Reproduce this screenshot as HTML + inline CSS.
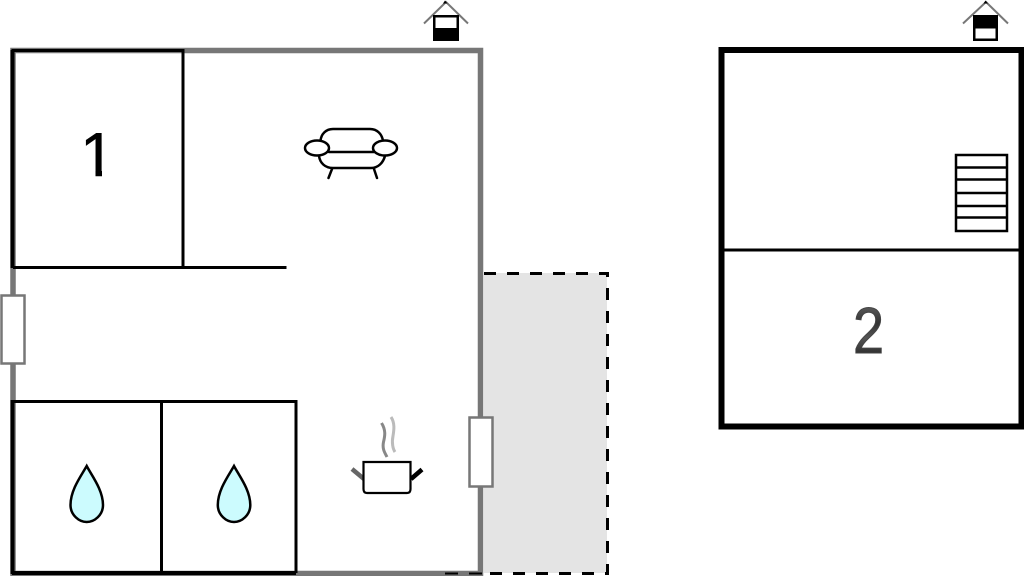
<!DOCTYPE html>
<html><head><meta charset="utf-8"><style>
html,body{margin:0;padding:0;background:#fff}
svg{display:block}
text{font-family:"Liberation Sans",sans-serif}
</style></head><body>
<svg width="1024" height="576" viewBox="0 0 1024 576" xmlns="http://www.w3.org/2000/svg" fill="none" stroke-linejoin="miter">
<defs>
<clipPath id="one"><rect x="80" y="125" width="30" height="46"/><rect x="95.500" y="170" width="6.500" height="7"/></clipPath>
<linearGradient id="two" x1="0" y1="0" x2="0" y2="1">
<stop offset="0" stop-color="#222"/><stop offset="0.2" stop-color="#555"/><stop offset="0.4" stop-color="#333"/><stop offset="0.6" stop-color="#555"/><stop offset="0.8" stop-color="#333"/><stop offset="1" stop-color="#666"/>
</linearGradient>
</defs>
<rect width="1024" height="576" fill="#fff"/>
<!-- terrace -->
<rect x="484" y="273" width="123" height="300" fill="#e4e4e4"/>
<path d="M484 273.500H607.500V573.500H445" stroke="#000" stroke-width="3" stroke-dasharray="12 11"/>
<!-- outer walls -->
<path d="M13 50.500H480.500V573.500H13Z" stroke="#777" stroke-width="5.500"/>
<path d="M445 573.500H483" stroke="#000" stroke-width="2" stroke-dasharray="13 11"/>
<!-- room 1 -->
<path d="M13 268V50.500H183V268" stroke="#000" stroke-width="3"/>
<path d="M12.500 268V50" stroke="#000" stroke-width="4"/>
<path d="M13 267.500H286.500" stroke="#000" stroke-width="3"/>
<!-- wet rooms -->
<path d="M13 401.500H296V573" stroke="#000" stroke-width="3"/>
<path d="M161.500 401V573" stroke="#000" stroke-width="3"/>
<path d="M12.500 400V574M12 573H296" stroke="#000" stroke-width="4"/>
<!-- doors -->
<rect x="1.500" y="295.500" width="23" height="68" fill="#fff" stroke="#777" stroke-width="2.500"/>
<rect x="469.500" y="417.500" width="23" height="69" fill="#fff" stroke="#777" stroke-width="2.500"/>
<!-- drops -->
<path d="M86.700 466C81 476 70.500 490 70.500 505C70.500 515 79 522 86.700 522C94.500 522 103 515 103 505C103 490 92 476 86.700 466Z" fill="#ccfbfe" stroke="#000" stroke-width="2.500"/>
<path d="M234 466C228.300 476 217.800 490 217.800 505C217.800 515 226.300 522 234 522C241.800 522 250.300 515 250.300 505C250.300 490 239.300 476 234 466Z" fill="#ccfbfe" stroke="#000" stroke-width="2.500"/>
<!-- sofa -->
<g stroke="#000" stroke-width="2.500" stroke-linecap="round">
<path d="M320.500 141C321 134 326 129 333 129H370C377 129 382 134 383 141"/>
<path d="M329 152H374"/>
<path d="M319 156C320 163 325 168 333 168H371C378 168 383 163 385 156"/>
<path d="M332 169L328.500 178M374 169L377 178"/>
<ellipse cx="317" cy="148" rx="12" ry="7.500" fill="#fff"/>
<ellipse cx="385" cy="148" rx="12" ry="7.500" fill="#fff"/>
</g>
<!-- pot -->
<path d="M352 469L364 479" stroke="#666" stroke-width="4.500"/>
<path d="M422 469.500L411 479" stroke="#000" stroke-width="4.500"/>
<path d="M363.500 462H410.500V489C410.500 492 409 493 407 493H367C365 493 363.500 492 363.500 489Z" fill="#fff" stroke="#000" stroke-width="2.200"/>
<path d="M381.500 423C386 430 385 436 383.500 442C382 449 385 453 387 457" stroke="#888" stroke-width="3"/>
<path d="M391 417C395 423 394 430 393 436C391.500 443 393 449 395 452" stroke="#bbb" stroke-width="3"/>
<!-- house icon left -->
<path d="M424 23.500L446 2L468 23.500" stroke="#777" stroke-width="2"/>
<path d="M445 0.500L447.500 3.500H443Z" fill="#000"/>
<rect x="433" y="15" width="26" height="26" fill="#000"/>
<rect x="435.500" y="17.500" width="21" height="10.500" fill="#fff"/>
<!-- upper floor -->
<rect x="721.500" y="50" width="300" height="376.500" stroke="#000" stroke-width="6"/>
<path d="M722 250H1020" stroke="#000" stroke-width="3"/>
<rect x="956" y="155" width="51" height="76" stroke="#000" stroke-width="2.500"/>
<path d="M956 167.500H1007M956 179.500H1007M956 193H1007M956 206H1007M956 217.500H1007" stroke="#000" stroke-width="2.500"/>
<!-- house icon right -->
<path d="M963 23.500L986 2L1008 23.500" stroke="#777" stroke-width="2"/>
<path d="M985.500 0.500L988 3.500H983.500Z" fill="#000"/>
<rect x="973" y="15" width="25" height="26" fill="#000"/>
<rect x="975.500" y="28.500" width="20" height="10" fill="#fff"/>
<!-- labels -->
<g clip-path="url(#one)"><text x="97.500" y="176" font-size="62" fill="#000" stroke="#000" stroke-width="0.600" text-anchor="middle">1</text></g>
<text transform="translate(868.500 353) scale(0.86 1)" x="0" y="0" font-size="65" fill="url(#two)" stroke="#444" stroke-width="1" text-anchor="middle">2</text>
</svg>
</body></html>
